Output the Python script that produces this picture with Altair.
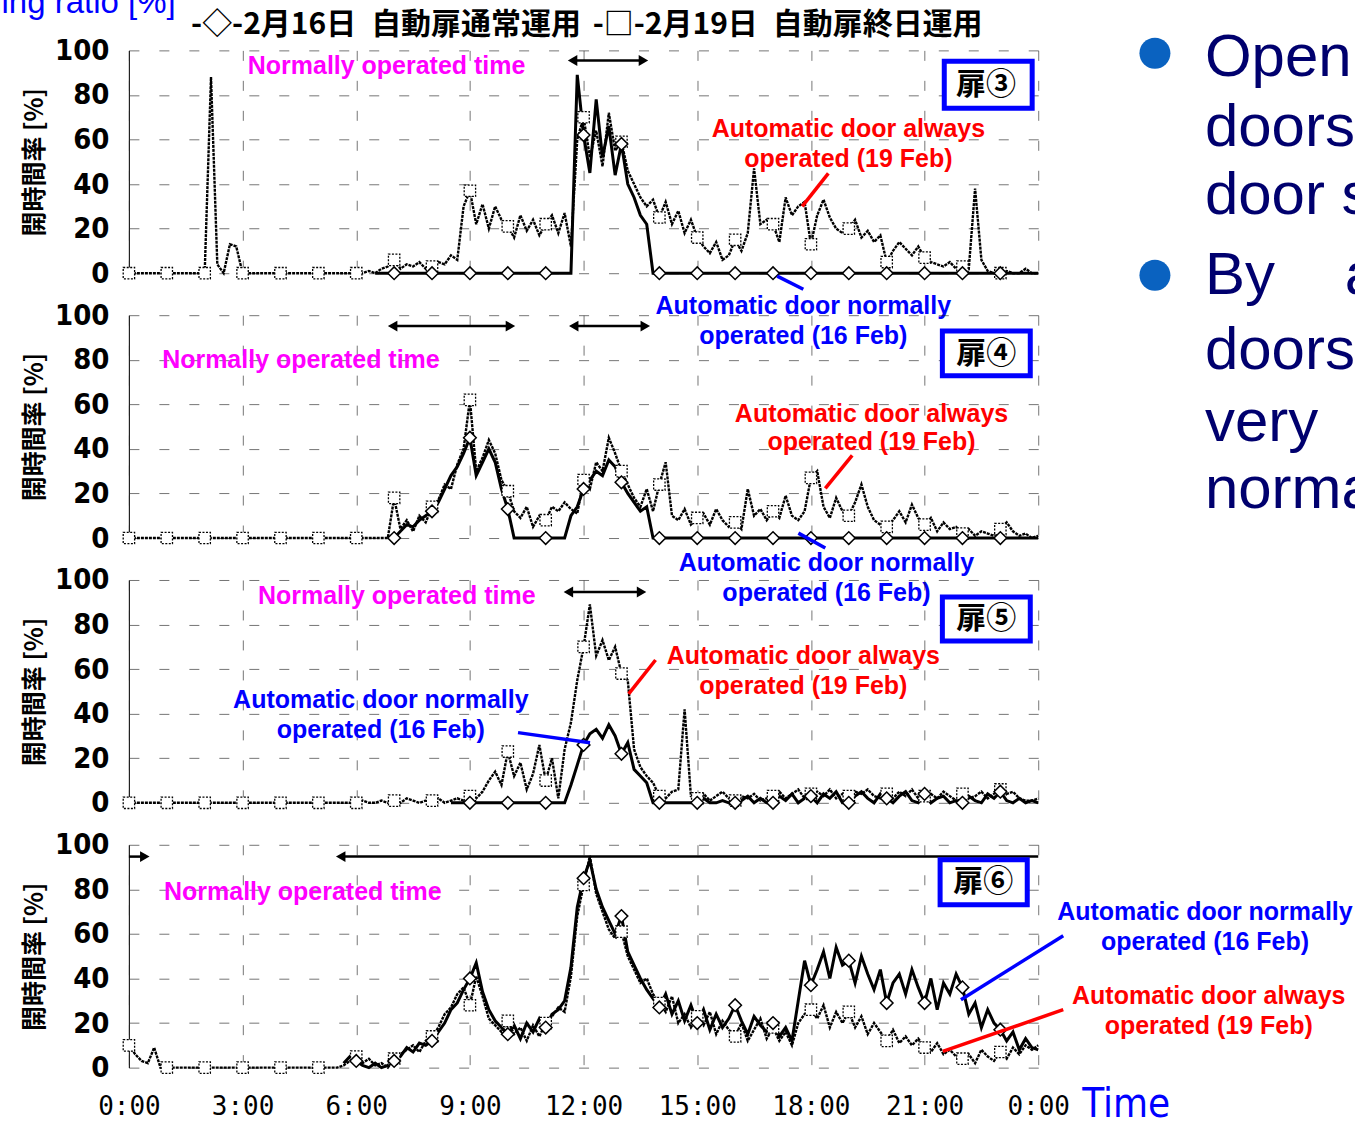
import altair as alt
import pandas as pd

N = None  # not logged

# Opening ratio (%) sampled every 10 minutes from 0:00 to 24:00 (145 samples per day).
# One row per hour: hh:00, hh:10, hh:20, hh:30, hh:40, hh:50.

# ---------------- Door 3 ----------------
door3_feb16 = [
    N, N, N, N, N, N,
    N, N, N, N, N, N,
    N, N, N, N, N, N,
    N, N, N, N, N, N,
    N, N, N, N, N, N,
    N, N, N, N, N, N,
    N, N, N, 0, 0, 0,
    0, 0, 0, 0, 0, 0,
    0, 0, 0, 0, 0, 0,
    0, 0, 0, 0, 0, 0,
    0, 0, 0, 0, 0, 0,
    0, 0, 0, 0, 0, 89,
    62, 45, 78, 52, 66, 44,
    58, 40, 34, 26, 22, 0,
    0, 0, 0, 0, 0, 0,
    0, 0, 0, 0, 0, 0,
    0, 0, 0, 0, 0, 0,
    0, 0, 0, 0, 0, 0,
    0, 0, 0, 0, 0, 0,
    0, 0, 0, 0, 0, 0,
    0, 0, 0, 0, 0, 0,
    0, 0, 0, 0, 0, 0,
    0, 0, 0, 0, 0, 0,
    0, 0, 0, 0, 0, 0,
    0,
]
door3_feb19 = [
    0, 0, 0, 0, 0, 0,
    0, 0, 0, 0, 0, 0,
    0, 88, 4, 0, 13, 12,
    0, 0, 0, 0, 0, 0,
    0, 0, 0, 0, 0, 0,
    0, 0, 0, 0, 0, 0,
    0, 0, 1, 0, 2, 3,
    6, 2, 4, 3, 5, 2,
    3, 5, 4, 8, 6, 30,
    37, 22, 31, 20, 30, 24,
    21, 16, 26, 19, 24, 17,
    22, 26, 18, 27, 12, 60,
    70, 52, 64, 48, 72, 55,
    59, 46, 40, 34, 30, 33,
    25, 32, 22, 28, 18, 24,
    16, 12, 9, 14, 6, 8,
    15, 10, 18, 47, 22, 24,
    22, 14, 34, 26, 30, 32,
    13, 26, 33, 25, 20, 18,
    20, 24, 16, 19, 14, 17,
    5, 10, 14, 11, 8, 12,
    7, 5, 4, 3, 5, 2,
    3, 2, 38, 6, 1, 0,
    0, 1, 0, 0, 2, 0,
    0,
]

# ---------------- Door 4 ----------------
door4_feb16 = [
    N, N, N, N, N, N,
    N, N, N, N, N, N,
    N, N, N, N, N, N,
    N, N, N, N, N, N,
    N, N, N, N, N, N,
    N, N, N, N, N, N,
    N, N, N, N, N, N,
    0, 3, 6, 5, 8, 10,
    12, 16, 22, 28, 32, 38,
    45, 28, 34, 40, 34, 22,
    13, 0, 0, 0, 0, 0,
    0, 0, 0, 0, 10, 14,
    22, 26, 30, 28, 35, 32,
    25, 20, 16, 12, 14, 0,
    0, 0, 0, 0, 0, 0,
    0, 0, 0, 0, 0, 0,
    0, 0, 0, 0, 0, 0,
    0, 0, 0, 0, 0, 0,
    0, 0, 0, 0, 0, 0,
    0, 0, 0, 0, 0, 0,
    0, 0, 0, 0, 0, 0,
    0, 0, 0, 0, 0, 0,
    0, 0, 0, 0, 0, 0,
    0, 0, 0, 0, 0, 0,
    0,
]
door4_feb19 = [
    0, 0, 0, 0, 0, 0,
    0, 0, 0, 0, 0, 0,
    0, 0, 0, 0, 0, 0,
    0, 0, 0, 0, 0, 0,
    0, 0, 0, 0, 0, 0,
    0, 0, 0, 0, 0, 0,
    0, 0, 0, 0, 0, 0,
    18, 4, 8, 3, 10, 7,
    14, 17, 24, 22, 33, 40,
    62, 30, 36, 44, 38, 26,
    21, 12, 9, 14, 5, 10,
    8, 14, 12, 16, 13, 11,
    26, 22, 34, 30, 45, 38,
    30, 24, 18, 14, 22, 12,
    24, 34, 10, 8, 13, 6,
    9, 11, 6, 13, 8, 5,
    7, 4, 22, 10, 13, 8,
    12, 9, 19, 10, 8, 12,
    27, 30, 14, 9, 18, 12,
    10, 16, 24, 14, 8, 6,
    5, 8, 12, 7, 15, 9,
    6, 9, 3, 7, 4, 5,
    2, 4, 1, 3, 2, 1,
    4, 7, 3, 1, 2, 0,
    1,
]

# ---------------- Door 5 ----------------
door5_feb16 = [
    N, N, N, N, N, N,
    N, N, N, N, N, N,
    N, N, N, N, N, N,
    N, N, N, N, N, N,
    N, N, N, N, N, N,
    N, N, N, N, N, N,
    N, N, N, N, N, N,
    N, N, N, N, N, N,
    N, N, N, 0, 0, 0,
    0, 0, 0, 0, 0, 0,
    0, 0, 0, 0, 0, 0,
    0, 0, 0, 0, 8, 17,
    26, 31, 33, 29, 35, 30,
    22, 27, 15, 12, 9, 0,
    0, 0, 0, 0, 0, 0,
    0, 2, 0, 0, 1, 0,
    0, 1, 3, 0, 2, 0,
    0, 3, 1, 4, 0, 2,
    3, 0, 4, 2, 5, 0,
    0, 3, 5, 2, 0, 4,
    2, 0, 3, 5, 1, 0,
    4, 0, 2, 3, 0, 1,
    0, 3, 1, 0, 4, 2,
    5, 1, 0, 2, 0, 1,
    0,
]
door5_feb19 = [
    0, 0, 0, 0, 0, 0,
    0, 0, 0, 0, 0, 0,
    0, 0, 0, 0, 0, 0,
    0, 0, 0, 0, 0, 0,
    0, 0, 0, 0, 0, 0,
    0, 0, 0, 0, 0, 0,
    0, 1, 0, 0, 1, 0,
    1, 0, 2, 1, 0, 1,
    1, 2, 0, 1, 2, 1,
    3, 2, 5, 10, 14, 8,
    23, 12, 18, 6, 13, 26,
    10, 20, 2, 24, 36, 55,
    70, 89, 66, 73, 64, 70,
    58, 55, 24, 16, 12, 9,
    3, 2, 5, 6, 42, 3,
    2, 4, 1, 3, 5, 2,
    1, 3, 2, 4, 1, 2,
    3, 5, 2, 4, 6, 2,
    4, 5, 3, 6, 2, 4,
    3, 5, 4, 6, 3, 2,
    4, 2, 5, 3, 6, 2,
    3, 4, 2, 5, 3, 1,
    4, 2, 3, 5, 2, 4,
    6, 4, 5, 2, 1, 1,
    2,
]

# ---------------- Door 6 ----------------
door6_feb16 = [
    N, N, N, N, N, N,
    N, N, N, N, N, N,
    N, N, N, N, N, N,
    N, N, N, N, N, N,
    N, N, N, N, N, N,
    N, N, N, N, 2, 5,
    3, 1, 0, 2, 0, 1,
    3, 5, 9, 7, 11, 10,
    12, 16, 20, 26, 29, 35,
    40, 47, 34, 26, 21, 18,
    15, 19, 13, 20, 16, 22,
    18, 24, 26, 30, 45, 72,
    85, 93, 80, 72, 66, 60,
    68, 52, 46, 40, 35, 31,
    27, 33, 24, 30, 21, 28,
    20, 26, 17, 24, 18, 22,
    28, 21, 15, 23, 19, 16,
    20, 14, 18, 12, 30, 48,
    37, 44, 52, 40, 54, 46,
    48, 38, 50, 42, 35, 44,
    29, 38, 42, 33, 44, 36,
    29, 40, 26, 38, 33, 42,
    36, 24, 29, 18, 26, 20,
    17, 12, 16, 8, 13, 9,
    8,
]
door6_feb19 = [
    10, 6, 3, 2, 9, 0,
    0, 0, 0, 0, 0, 0,
    0, 0, 0, 0, 0, 0,
    0, 0, 0, 0, 0, 0,
    0, 0, 0, 0, 0, 0,
    0, 0, 0, 0, 1, 3,
    5, 2, 4, 1, 2, 0,
    4, 6, 8, 10, 7, 12,
    14, 18, 24, 27, 33, 36,
    28, 41, 32, 22, 19, 16,
    21, 15, 18, 12, 19, 14,
    20, 23, 27, 25, 41, 68,
    82, 95, 78, 70, 62, 58,
    61, 50, 44, 38, 40, 33,
    29, 25, 32, 20, 24, 18,
    23, 19, 25, 15, 21, 17,
    14, 20, 12, 17, 22, 13,
    18, 12, 16, 10, 20, 24,
    26, 22, 28, 18, 25, 20,
    25, 18, 23, 15, 20, 16,
    12, 17, 11, 14, 10, 13,
    9, 7, 11, 6, 8, 5,
    4, 6, 2, 8, 5, 3,
    7, 4, 9, 6, 10, 8,
    10,
]

for series in (door3_feb16, door3_feb19, door4_feb16, door4_feb19,
               door5_feb16, door5_feb19, door6_feb16, door6_feb19):
    assert len(series) == 145

MAGENTA, RED, BLUE = "#FF00FF", "#FF0000", "#0000FF"

# Annotations per door: text lines (label, hour, %, colour), pointer lines,
# "normally operated time" arrows (x1, x2, y, left head, right head) and the door tag box.
doors = [
    dict(
        tag="扉③", feb16=door3_feb16, feb19=door3_feb19,
        notes=[("Normally operated time", 6.80, 92.8, MAGENTA),
               ("Automatic door always", 18.99, 64.6, RED),
               ("operated (19 Feb)", 18.99, 51.1, RED),
               ("Automatic door normally", 17.80, -14.8, BLUE),
               ("operated (16 Feb)", 17.80, -28.3, BLUE)],
        pointers=[(18.46, 44.8, 17.77, 30.0, RED),
                  (17.11, -1.3, 17.80, -7.2, BLUE)],
        arrows=[(11.71, 13.58, 95.5, True, True)],
        box=(21.52, 23.84, 74.0, 95.1), tag_at=(22.62, 84.5),
    ),
    dict(
        tag="扉④", feb16=door4_feb16, feb19=door4_feb19,
        notes=[("Normally operated time", 4.54, 79.9, MAGENTA),
               ("Automatic door always", 19.60, 55.8, RED),
               ("operated (19 Feb)", 19.60, 42.9, RED),
               ("Automatic door normally", 18.41, -11.2, BLUE),
               ("operated (16 Feb)", 18.41, -24.6, BLUE)],
        pointers=[(19.09, 37.1, 18.38, 22.3, RED),
                  (17.67, 2.2, 18.38, -4.5, BLUE)],
        arrows=[(6.96, 10.07, 95.1, True, True),
                (11.74, 13.63, 95.1, True, True)],
        box=(21.47, 23.79, 72.8, 92.9), tag_at=(22.63, 82.8),
    ),
    dict(
        tag="扉⑤", feb16=door5_feb16, feb19=door5_feb19,
        notes=[("Normally operated time", 7.07, 92.8, MAGENTA),
               ("Automatic door always", 17.80, 65.9, RED),
               ("operated (19 Feb)", 17.80, 52.5, RED),
               ("Automatic door normally", 6.65, 46.2, BLUE),
               ("operated (16 Feb)", 6.65, 32.7, BLUE)],
        pointers=[(13.90, 64.1, 13.19, 48.9, RED),
                  (10.27, 31.5, 12.17, 27.0, BLUE)],
        arrows=[(11.60, 13.53, 94.6, True, True)],
        box=(21.47, 23.79, 72.6, 92.4), tag_at=(22.63, 82.5),
    ),
    dict(
        tag="扉⑥", feb16=door6_feb16, feb19=door6_feb19,
        notes=[("Normally operated time", 4.59, 78.9, MAGENTA),
               ("Automatic door normally", 28.40, 70.0, BLUE),
               ("operated (16 Feb)", 28.40, 56.5, BLUE),
               ("Automatic door always", 28.50, 32.3, RED),
               ("operated (19 Feb)", 28.50, 18.8, RED)],
        pointers=[(24.66, 59.2, 21.96, 30.5, BLUE),
                  (24.66, 26.0, 21.48, 7.3, RED)],
        arrows=[(0.00, 0.42, 94.7, False, True),
                (5.59, 24.00, 94.7, True, False)],
        box=(21.41, 23.71, 73.1, 93.3), tag_at=(22.55, 83.1),
    ),
]

legend_items = [("-◇-2月16日\u2002自動扉通常運用", 1.64, 111.5),
                ("-□-2月19日\u2002自動扉終日運用", 12.24, 111.5)]
side_lines = [("Open", 28.40, 88.3), ("doors", 28.40, 57.0), ("door s", 28.40, 26.5),
              ("By", 28.40, -9.4), ("a", 32.09, -9.4), ("doors", 28.40, -43.0),
              ("very", 28.40, -75.3), ("norma", 28.40, -105.4)]
side_bullets = [(27.08, 98.7), (27.08, -0.9)]
corner_label = ("Opening ratio [%]", -5.49, 116.6)
time_label = ("Time", 26.32, -17.0)

X_SCALE = alt.Scale(domain=[0, 24], nice=False, zero=False)
Y_SCALE = alt.Scale(domain=[0, 100], nice=False)
NARROW = "Liberation Sans Narrow, DejaVu Sans Condensed, sans-serif"


def x_axis(show_labels):
    return alt.Axis(values=list(range(0, 25, 3)), labels=show_labels,
                    labelExpr="datum.value == 24 ? '0:00' : datum.value + ':00'",
                    labelFont="DejaVu Sans Mono", labelFontSize=26, labelColor="black",
                    labelPadding=26, labelFlush=False, labelOverlap=False,
                    ticks=False, domain=False, grid=True, title=None)


Y_AXIS = alt.Axis(values=[0, 20, 40, 60, 80, 100], labelFont=NARROW, labelFontSize=29,
                  labelFontWeight="bold", labelColor="black", labelPadding=20,
                  labelOverlap=False, ticks=False, domain=True, domainColor="#222222",
                  domainWidth=1.2, grid=True, title="開時間率 [%]",
                  titleFont="Noto Sans CJK JP", titleFontSize=25, titleFontWeight="bold",
                  titleColor="black", titlePadding=7)


def series_frame(feb16, feb19):
    rows = []
    for i, (a, b) in enumerate(zip(feb16, feb19)):
        for name, v in (("feb16", a), ("feb19", b)):
            if v is not None:
                rows.append({"t": i / 6, "v": v, "series": name,
                             "hourly": i % 6 == 0 and i < 144})
    return pd.DataFrame(rows)


def door_panel(d, bottom, first):
    # every layer shares the same x/y fields and axis definitions
    xy = dict(x=alt.X("t:Q", scale=X_SCALE, axis=x_axis(bottom)),
              y=alt.Y("v:Q", scale=Y_SCALE, axis=Y_AXIS))

    def text_layer(rows, **style):
        df = pd.DataFrame(rows, columns=["label", "t", "v", "color"])
        return alt.Chart(df).mark_text(**style).encode(
            text="label:N", color=alt.Color("color:N", scale=None), **xy)

    base = alt.Chart(series_frame(d["feb16"], d["feb19"]))
    layers = [
        base.transform_filter("datum.series == 'feb19'")
            .mark_line(color="black", strokeWidth=2.4, strokeDash=[3, 1]).encode(**xy),
        base.transform_filter("datum.series == 'feb16'")
            .mark_line(color="black", strokeWidth=3.0).encode(**xy),
        base.transform_filter("datum.series == 'feb19' && datum.hourly")
            .mark_point(shape="square", size=130, filled=True, fill="white", stroke="black",
                        strokeWidth=1.3, strokeDash=[2, 1.5], opacity=1).encode(**xy),
        base.transform_filter("datum.series == 'feb16' && datum.hourly")
            .mark_point(shape="diamond", size=160, filled=True, fill="white", stroke="black",
                        strokeWidth=1.5, opacity=1).encode(**xy),
    ]

    arrows = pd.DataFrame([a[:3] for a in d["arrows"]], columns=["t", "t2", "v"])
    heads = []
    for x1, x2, y, left, right in d["arrows"]:
        if left:
            heads.append((x1, y, "triangle-left"))
        if right:
            heads.append((x2, y, "triangle-right"))
    heads = pd.DataFrame(heads, columns=["t", "v", "shape"])
    layers.append(alt.Chart(arrows).mark_rule(color="black", strokeWidth=2.5)
                  .encode(x2="t2:Q", **xy))
    layers.append(alt.Chart(heads).mark_point(filled=True, color="black", size=120, opacity=1)
                  .encode(shape=alt.Shape("shape:N", scale=None), **xy))

    ptr = pd.DataFrame(d["pointers"], columns=["t", "v", "t2", "v2", "color"])
    layers.append(alt.Chart(ptr).mark_rule(strokeWidth=3.5)
                  .encode(x2="t2:Q", y2="v2:Q", color=alt.Color("color:N", scale=None), **xy))

    bx = pd.DataFrame([d["box"]], columns=["t", "t2", "v", "v2"])
    layers.append(alt.Chart(bx).mark_rect(fill="white", stroke="#0000FF", strokeWidth=5)
                  .encode(x2="t2:Q", y2="v2:Q", **xy))
    layers.append(text_layer([(d["tag"], *d["tag_at"], "black")], font="Noto Sans CJK JP",
                             fontSize=30, fontWeight="bold", align="center", baseline="middle"))

    layers.append(text_layer(d["notes"], font="Liberation Sans", fontSize=25,
                             fontWeight="bold", align="center", baseline="middle"))

    if first:
        layers.append(text_layer([(t, x, y, "black") for t, x, y in legend_items],
                                 font="Noto Sans CJK JP", fontSize=30, fontWeight="bold",
                                 align="left", baseline="middle"))
        layers.append(text_layer([(*corner_label, "#0000FF")], font="Liberation Sans",
                                 fontSize=33, align="left", baseline="alphabetic"))
        bullets = pd.DataFrame(side_bullets, columns=["t", "v"])
        layers.append(alt.Chart(bullets).mark_circle(size=960, color="#0A62C0", opacity=1)
                      .encode(**xy))
        layers.append(text_layer([(t, x, y, "#00006E") for t, x, y in side_lines],
                                 font="Liberation Sans", fontSize=60,
                                 align="left", baseline="alphabetic"))
    if bottom:
        layers.append(text_layer([(*time_label, "#0000FF")], font=NARROW, fontSize=40,
                                 align="center", baseline="middle"))

    return alt.layer(*layers).properties(width=910, height=223)


panels = [door_panel(d, bottom=(i == len(doors) - 1), first=(i == 0))
          for i, d in enumerate(doors)]

chart = (
    alt.vconcat(*panels, spacing=42, bounds="flush")
    .properties(padding={"left": -80, "top": -14, "right": -24, "bottom": -6})
    .configure_view(stroke=None)
    .configure_axis(gridColor="#1a1a1a", gridDash=[10, 20], gridWidth=1, gridOpacity=0.6)
)

chart.save("out.html", embed_options={"renderer": "svg", "actions": False})
